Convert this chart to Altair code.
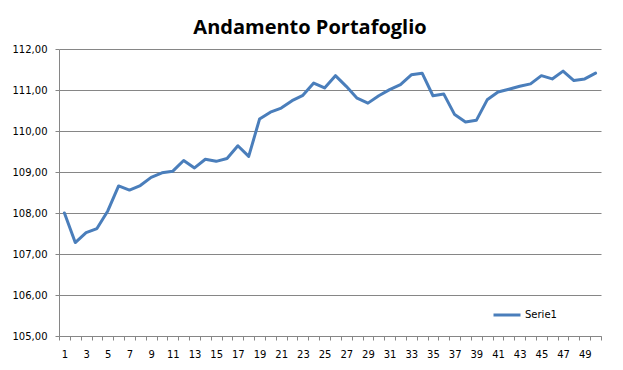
import altair as alt
import pandas as pd

periodi = list(range(1, 51))
valori = [
    108.00, 107.28, 107.52, 107.62, 108.05, 108.66, 108.56, 108.67, 108.87, 108.98,
    109.02, 109.28, 109.10, 109.31, 109.26, 109.33, 109.64, 109.38, 110.29, 110.46,
    110.56, 110.74, 110.87, 111.17, 111.05, 111.35, 111.09, 110.80, 110.68, 110.86,
    111.01, 111.13, 111.37, 111.41, 110.86, 110.90, 110.40, 110.22, 110.26, 110.76,
    110.95, 111.02, 111.09, 111.15, 111.35, 111.27, 111.46, 111.23, 111.27, 111.41,
]
serie = ["Serie1"] * len(periodi)
y_ticks = [105, 106, 107, 108, 109, 110, 111, 112]
x_ticks = [i / 2 for i in range(1, 102)]  # 0.5 .. 50.5

df = pd.DataFrame({"periodo": periodi, "valore": valori, "serie": serie})

GRAY = "#868686"
FONT = "DejaVu Sans"

chart = alt.Chart(df).mark_line(
    strokeWidth=3, strokeJoin="round", strokeCap="round"
).encode(
    x=alt.X(
        "periodo:Q",
        scale=alt.Scale(domain=[0.5, 50.5], nice=False, zero=False),
        axis=alt.Axis(
            title=None,
            values=x_ticks,
            labelExpr="datum.value % 2 == 1 ? datum.value : ''",
            labelOverlap=False,
            labelFlush=False,
            labelFont=FONT,
            labelFontSize=10,
            labelColor="black",
            labelPadding=9,
            tickSize=4,
            tickColor=GRAY,
            tickOpacity={"condition": {"test": "datum.value % 1 != 0", "value": 1}, "value": 0},
            domainColor=GRAY,
            grid=False,
        ),
    ),
    y=alt.Y(
        "valore:Q",
        scale=alt.Scale(domain=[105, 112], nice=False, zero=False),
        axis=alt.Axis(
            title=None,
            values=y_ticks,
            labelExpr="replace(format(datum.value, '.2f'), '.', ',')",
            labelFont=FONT,
            labelFontSize=10,
            labelColor="black",
            labelPadding=8,
            tickSize=4,
            tickColor=GRAY,
            domainColor=GRAY,
            grid=True,
            gridColor=GRAY,
            gridOpacity=1,
        ),
    ),
    color=alt.Color(
        "serie:N",
        scale=alt.Scale(range=["#4A7EBB"]),
        legend=alt.Legend(
            title=None,
            orient="none",
            legendX=433,
            legendY=251,
            symbolType="stroke",
            symbolSize=729,
            symbolStrokeWidth=3,
            labelFont=FONT,
            labelFontSize=10,
            labelColor="black",
            labelOffset=3,
        ),
    ),
).properties(
    width=542,
    height=287,
    padding={"left": 51, "top": 41, "right": 10, "bottom": 22},
    autosize="none",
    title=alt.TitleParams(
        "Andamento Portafoglio",
        font="Open Sans",
        fontSize=20,
        fontWeight="bold",
        color="black",
        anchor="middle",
        dx=-20,
        offset=6,
    ),
).configure_view(stroke=None)

chart.save("out.html", embed_options={"renderer": "svg", "actions": False})
